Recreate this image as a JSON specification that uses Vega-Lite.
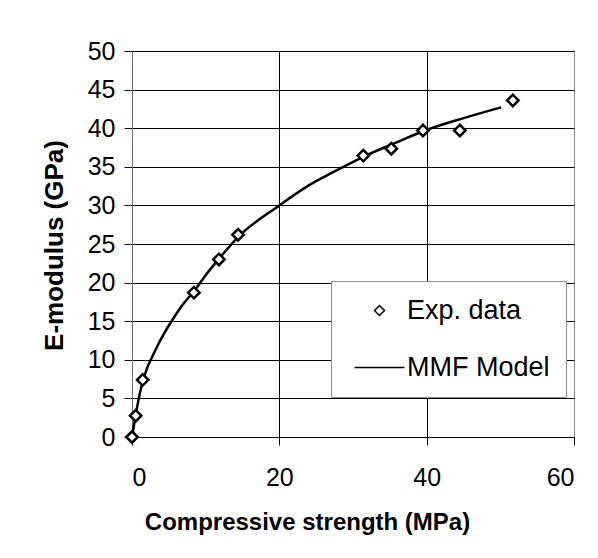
{
  "$schema": "https://vega.github.io/schema/vega-lite/v6.json",
  "width": 442,
  "height": 386,
  "autosize": {"type": "none"},
  "padding": {"left": 132, "top": 51, "right": 24, "bottom": 121},
  "background": "white",
  "config": {
    "font": "Liberation Sans",
    "view": {"stroke": "#8c8c8c", "strokeWidth": 1},
    "axis": {
      "domainColor": "black",
      "domainWidth": 1,
      "tickColor": "black",
      "tickWidth": 1,
      "tickSize": 8,
      "gridColor": "black",
      "gridWidth": 1,
      "gridOpacity": 1,
      "labelFont": "Liberation Sans",
      "labelFontSize": 25,
      "labelColor": "black",
      "labelOverlap": false,
      "titleFont": "Liberation Sans",
      "titleFontWeight": "bold",
      "titleColor": "black"
    }
  },
  "datasets": {
    "exp": [
      {"strength": 0, "modulus": 0, "series": "Exp. data"},
      {"strength": 0.5, "modulus": 2.76, "series": "Exp. data"},
      {"strength": 1.45, "modulus": 7.4, "series": "Exp. data"},
      {"strength": 8.4, "modulus": 18.7, "series": "Exp. data"},
      {"strength": 11.8, "modulus": 23.0, "series": "Exp. data"},
      {"strength": 14.4, "modulus": 26.2, "series": "Exp. data"},
      {"strength": 31.4, "modulus": 36.45, "series": "Exp. data"},
      {"strength": 35.2, "modulus": 37.35, "series": "Exp. data"},
      {"strength": 39.5, "modulus": 39.7, "series": "Exp. data"},
      {"strength": 44.5, "modulus": 39.7, "series": "Exp. data"},
      {"strength": 51.7, "modulus": 43.6, "series": "Exp. data"}
    ],
    "model": [
      {"strength": 0, "modulus": 0},
      {"strength": 0.3, "modulus": 1.7},
      {"strength": 0.7, "modulus": 3.9},
      {"strength": 1.1, "modulus": 5.8},
      {"strength": 1.5, "modulus": 7.3},
      {"strength": 2.0, "modulus": 8.8},
      {"strength": 2.6, "modulus": 10.1},
      {"strength": 3.3, "modulus": 11.5},
      {"strength": 4.0, "modulus": 12.8},
      {"strength": 5.3, "modulus": 14.9},
      {"strength": 6.7, "modulus": 16.9},
      {"strength": 8.5, "modulus": 19.0},
      {"strength": 10.2, "modulus": 21.2},
      {"strength": 11.9, "modulus": 23.2},
      {"strength": 14.4, "modulus": 25.9},
      {"strength": 20.0, "modulus": 30.0},
      {"strength": 24.0, "modulus": 32.6},
      {"strength": 27.3, "modulus": 34.3},
      {"strength": 31.4, "modulus": 36.3},
      {"strength": 36.0, "modulus": 38.2},
      {"strength": 39.5, "modulus": 39.6},
      {"strength": 45.0, "modulus": 41.3},
      {"strength": 50.1, "modulus": 42.7}
    ]
  },
  "encoding": {
    "x": {
      "field": "strength",
      "type": "quantitative",
      "scale": {"domain": [0, 60], "nice": false, "zero": false},
      "axis": {
        "values": [0, 20, 40, 60],
        "tickCount": 10,
        "title": "Compressive strength (MPa)",
        "titleFontSize": 24,
        "labelPadding": 20,
        "labelOverlap": false,
        "titleAnchor": "start",
        "titleAlign": "center",
        "titleX": 175,
        "titleY": 92,
        "titleBaseline": "alphabetic",
        "gridColor": {"condition": {"test": "datum.value == 60", "value": "#8c8c8c"}, "value": "black"}
      }
    },
    "y": {
      "field": "modulus",
      "type": "quantitative",
      "scale": {"domain": [0, 50], "nice": false, "zero": false},
      "axis": {
        "values": [0, 5, 10, 15, 20, 25, 30, 35, 40, 45, 50],
        "tickCount": 20,
        "labelOverlap": false,
        "title": "E-modulus (GPa)",
        "titleFontSize": 26,
        "domainColor": "#6e6e6e",
        "labelPadding": 9,
        "titleAlign": "center",
        "titleAngle": -90,
        "titleX": -70,
        "titleY": 194,
        "titleBaseline": "alphabetic"
      }
    }
  },
  "layer": [
    {
      "data": {"name": "model"},
      "mark": {"type": "line", "color": "black", "strokeWidth": 2.5, "interpolate": "monotone"}
    },
    {
      "data": {"name": "exp"},
      "mark": {"type": "point", "filled": false, "fill": "white", "fillOpacity": 1, "color": "black", "strokeWidth": 2.5, "size": 130, "opacity": 1},
      "encoding": {
        "shape": {
          "field": "series",
          "type": "nominal",
          "scale": {"domain": ["Exp. data", "MMF Model"], "range": ["diamond", "M-5,0H5"]},
          "legend": {
            "title": null,
            "orient": "none",
            "legendX": 199,
            "legendY": 230,
            "padding": 16,
            "strokeColor": "#8c8c8c",
            "fillColor": "white",
            "labelFontSize": 27,
            "labelFont": "Liberation Sans",
            "labelColor": "black",
            "symbolSize": 100,
            "symbolOffset": 19,
            "labelOffset": 14,
            "rowPadding": 29,
            "encode": {
              "symbols": {
                "update": {
                  "stroke": {"value": "black"},
                  "fill": {"value": "white"},
                  "strokeWidth": {"value": 2.5},
                  "opacity": {"value": 1}
                }
              }
            }
          }
        }
      }
    }
  ]
}
